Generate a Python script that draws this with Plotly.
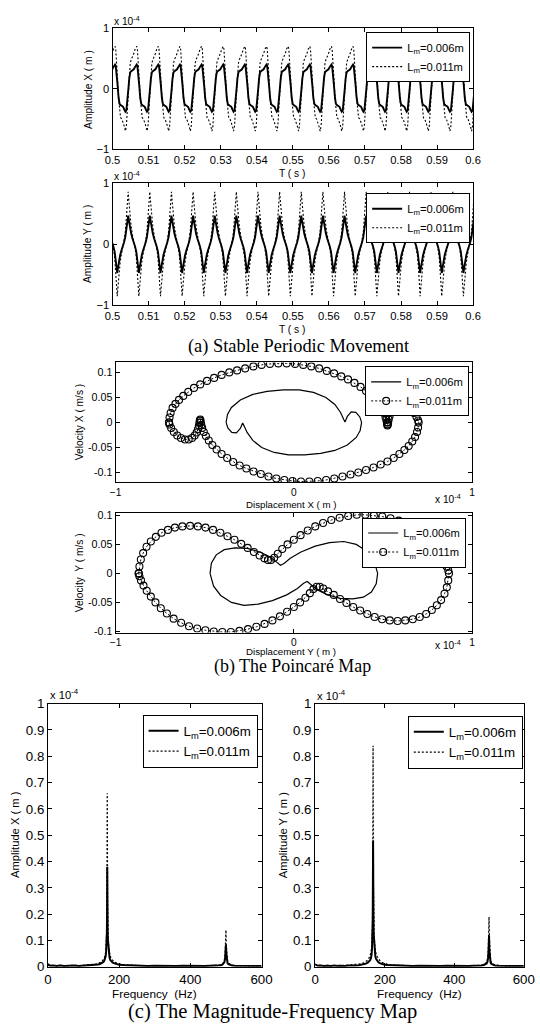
import plotly.graph_objects as go

# The page is photographed with the body's 8 px margin around the figure and the
# whole page squeezed back into 540x1026, so window positions are mapped back
# through that margin and squeeze before they are used as paper coordinates.
W, H = 540, 1026
PAD = 8
SX = W / (W + 2 * PAD)
SY = H / (H + 2 * PAD)
FS = 1.0 / ((SX + SY) / 2)      # font enlargement that offsets the squeeze
SANS = "Liberation Sans, Arial, Helvetica, sans-serif"
SERIF = "Liberation Serif, Times New Roman, serif"


def fx(p):
    return (p / SX - PAD) / W


def fy(p):
    return 1 - (p / SY - PAD) / H


def fs(size):
    return round(size * FS, 1)


# ---------------- (a) time histories (values in 1e-4 m) ----------------
PERIOD = 0.006          # s  (fundamental ~167 Hz)
T_START, T_END = 0.5, 0.6
T_TICKS = [0.5, 0.51, 0.52, 0.53, 0.54, 0.55, 0.56, 0.57, 0.58, 0.59, 0.6]
T_TICK_TEXT = ["0.5", "0.51", "0.52", "0.53", "0.54", "0.55", "0.56", "0.57", "0.58", "0.59", "0.6"]

# one cycle of X, phase measured from the X maximum (fraction of a period)
X_REF_TIME = 0.5007
X_PHASE = [0.000, 0.030, 0.075, 0.119, 0.164, 0.209, 0.254, 0.313, 0.373, 0.433, 0.478,
           0.522, 0.567, 0.612, 0.657, 0.701, 0.746, 0.806, 0.866, 0.925, 0.970]
X_SMALL = [0.40, 0.38, 0.25, 0.05, -0.15, -0.25, -0.27, -0.28, -0.30, -0.35, -0.38,
           -0.36, -0.22, -0.02, 0.17, 0.27, 0.29, 0.30, 0.32, 0.36, 0.39]
X_LARGE = [0.70, 0.66, 0.45, 0.15, -0.15, -0.38, -0.48, -0.50, -0.55, -0.63, -0.70,
           -0.62, -0.35, -0.05, 0.25, 0.42, 0.48, 0.52, 0.58, 0.65, 0.69]

# one cycle of Y, phase measured from the Y minimum
Y_REF_TIME = 0.5013
Y_PHASE = [0.000, 0.030, 0.075, 0.134, 0.194, 0.254, 0.313, 0.373, 0.418, 0.463,
           0.507, 0.537, 0.582, 0.642, 0.701, 0.761, 0.821, 0.881, 0.925, 0.970]
Y_SMALL = [-0.47, -0.40, -0.28, -0.18, -0.10, -0.04, 0.03, 0.12, 0.24, 0.38,
           0.47, 0.40, 0.28, 0.18, 0.10, 0.04, -0.03, -0.12, -0.24, -0.38]
Y_LARGE = [-0.85, -0.72, -0.50, -0.30, -0.16, -0.06, 0.06, 0.20, 0.40, 0.68,
           0.86, 0.72, 0.50, 0.30, 0.16, 0.06, -0.06, -0.20, -0.40, -0.68]

# ---------------- (b) phase portraits: (displacement 1e-4 m, velocity m/s) ----------------
PX_SMALL = [
    (-0.380, 0.000), (-0.372, 0.016), (-0.350, 0.030), (-0.300, 0.045), (-0.230, 0.056),
    (-0.150, 0.062), (-0.060, 0.065), (0.030, 0.065), (0.110, 0.060), (0.180, 0.050),
    (0.230, 0.036), (0.262, 0.020), (0.280, 0.006), (0.287, 0.001), (0.300, 0.012),
    (0.322, 0.021), (0.348, 0.020), (0.370, 0.011), (0.380, 0.000),
    (0.372, -0.016), (0.350, -0.030), (0.300, -0.045), (0.230, -0.056), (0.150, -0.062),
    (0.060, -0.065), (-0.030, -0.065), (-0.110, -0.060), (-0.180, -0.050), (-0.230, -0.036),
    (-0.262, -0.020), (-0.280, -0.006), (-0.287, -0.001), (-0.300, -0.012), (-0.322, -0.021),
    (-0.348, -0.020), (-0.370, -0.011), (-0.380, 0.000),
]
PX_LARGE = [
    (-0.700, 0.000), (-0.697, 0.010), (-0.691, 0.019), (-0.680, 0.029), (-0.664, 0.037),
    (-0.644, 0.045), (-0.620, 0.053), (-0.592, 0.061), (-0.560, 0.069), (-0.525, 0.076),
    (-0.487, 0.083), (-0.447, 0.089), (-0.405, 0.095), (-0.362, 0.100), (-0.318, 0.104),
    (-0.273, 0.108), (-0.227, 0.112), (-0.181, 0.115), (-0.134, 0.117), (-0.087, 0.118),
    (-0.040, 0.118), (0.007, 0.117), (0.053, 0.115), (0.098, 0.112), (0.142, 0.108),
    (0.185, 0.103), (0.226, 0.098), (0.266, 0.092), (0.304, 0.086), (0.340, 0.079),
    (0.374, 0.071), (0.405, 0.063), (0.433, 0.054), (0.457, 0.045), (0.477, 0.036),
    (0.493, 0.027), (0.505, 0.019), (0.514, 0.011), (0.519, 0.005), (0.522, 0.000),
    (0.524, -0.004), (0.525, -0.006), (0.527, -0.004), (0.529, 0.000), (0.532, 0.006),
    (0.537, 0.013), (0.545, 0.020), (0.556, 0.026), (0.571, 0.031), (0.590, 0.034),
    (0.611, 0.034), (0.633, 0.031), (0.654, 0.026), (0.673, 0.019), (0.688, 0.011),
    (0.697, 0.004), (0.700, 0.000),
    (0.697, -0.010), (0.691, -0.019), (0.680, -0.029), (0.664, -0.038), (0.644, -0.047),
    (0.620, -0.055), (0.592, -0.063), (0.560, -0.071), (0.525, -0.078), (0.487, -0.084),
    (0.447, -0.090), (0.405, -0.095), (0.362, -0.100), (0.318, -0.104), (0.273, -0.108),
    (0.227, -0.112), (0.181, -0.115), (0.134, -0.117), (0.087, -0.118), (0.040, -0.118),
    (-0.007, -0.117), (-0.053, -0.115), (-0.098, -0.112), (-0.142, -0.108), (-0.185, -0.103),
    (-0.226, -0.098), (-0.266, -0.092), (-0.304, -0.086), (-0.340, -0.079), (-0.374, -0.071),
    (-0.405, -0.063), (-0.433, -0.054), (-0.457, -0.045), (-0.477, -0.036), (-0.493, -0.027),
    (-0.505, -0.019), (-0.514, -0.011), (-0.519, -0.005), (-0.522, 0.000), (-0.524, 0.004),
    (-0.525, 0.006), (-0.527, 0.004), (-0.529, 0.000), (-0.532, -0.006), (-0.537, -0.013),
    (-0.545, -0.020), (-0.556, -0.026), (-0.571, -0.031), (-0.590, -0.034), (-0.611, -0.034),
    (-0.633, -0.031), (-0.654, -0.026), (-0.673, -0.019), (-0.688, -0.011), (-0.697, -0.004),
    (-0.700, 0.000),
]
PY_SMALL = [
    (-0.470, 0.000), (-0.462, 0.018), (-0.435, 0.032), (-0.390, 0.041), (-0.330, 0.044),
    (-0.260, 0.043), (-0.190, 0.037), (-0.130, 0.028), (-0.095, 0.019), (-0.075, 0.014),
    (-0.055, 0.017), (-0.020, 0.026), (0.040, 0.037), (0.120, 0.047), (0.200, 0.053),
    (0.280, 0.055), (0.350, 0.050), (0.410, 0.038), (0.450, 0.022), (0.470, 0.000),
    (0.462, -0.018), (0.435, -0.032), (0.390, -0.041), (0.330, -0.044), (0.260, -0.043),
    (0.190, -0.037), (0.130, -0.028), (0.095, -0.019), (0.075, -0.014), (0.055, -0.017),
    (0.020, -0.026), (-0.040, -0.037), (-0.120, -0.047), (-0.200, -0.053), (-0.280, -0.055),
    (-0.350, -0.050), (-0.410, -0.038), (-0.450, -0.022), (-0.470, 0.000),
]
PY_LARGE = [
    (-0.870, 0.000), (-0.866, 0.012), (-0.858, 0.024), (-0.845, 0.035), (-0.826, 0.046),
    (-0.802, 0.055), (-0.774, 0.063), (-0.742, 0.070), (-0.706, 0.075), (-0.667, 0.079),
    (-0.625, 0.081), (-0.582, 0.082), (-0.538, 0.081), (-0.495, 0.079), (-0.453, 0.075),
    (-0.412, 0.070), (-0.372, 0.064), (-0.333, 0.058), (-0.295, 0.051), (-0.259, 0.044),
    (-0.224, 0.037), (-0.192, 0.031), (-0.165, 0.026), (-0.145, 0.023), (-0.128, 0.023),
    (-0.110, 0.027), (-0.090, 0.034), (-0.065, 0.042), (-0.035, 0.050), (0.000, 0.058),
    (0.038, 0.066), (0.078, 0.074), (0.120, 0.081), (0.164, 0.087), (0.210, 0.092),
    (0.257, 0.096), (0.305, 0.099), (0.353, 0.101), (0.401, 0.101), (0.449, 0.100),
    (0.496, 0.098), (0.542, 0.095), (0.588, 0.091), (0.632, 0.085), (0.674, 0.078),
    (0.712, 0.069), (0.746, 0.060), (0.776, 0.050), (0.802, 0.040), (0.825, 0.030),
    (0.843, 0.021), (0.857, 0.012), (0.866, 0.005), (0.870, 0.000),
    (0.866, -0.012), (0.858, -0.024), (0.845, -0.035), (0.826, -0.046), (0.802, -0.055),
    (0.774, -0.063), (0.742, -0.070), (0.706, -0.075), (0.667, -0.079), (0.625, -0.081),
    (0.582, -0.082), (0.538, -0.081), (0.495, -0.079), (0.453, -0.075), (0.412, -0.070),
    (0.372, -0.064), (0.333, -0.058), (0.295, -0.051), (0.259, -0.044), (0.224, -0.037),
    (0.192, -0.031), (0.165, -0.026), (0.145, -0.023), (0.128, -0.023), (0.110, -0.027),
    (0.090, -0.034), (0.065, -0.042), (0.035, -0.050), (0.000, -0.058), (-0.038, -0.066),
    (-0.078, -0.074), (-0.120, -0.081), (-0.164, -0.087), (-0.210, -0.092), (-0.257, -0.096),
    (-0.305, -0.099), (-0.353, -0.101), (-0.401, -0.101), (-0.449, -0.100), (-0.496, -0.098),
    (-0.542, -0.095), (-0.588, -0.091), (-0.632, -0.085), (-0.674, -0.078), (-0.712, -0.069),
    (-0.746, -0.060), (-0.776, -0.050), (-0.802, -0.040), (-0.825, -0.030), (-0.843, -0.021),
    (-0.857, -0.012), (-0.866, -0.005), (-0.870, 0.000),
]

# ---------------- (c) amplitude spectra (1e-4 m) ----------------
FREQ = [0, 3, 8, 15, 25, 35, 45, 55, 65, 75,
        85, 95, 105, 115, 125, 133, 140, 146, 151, 155,
        158, 160, 162, 163.5, 164.5, 165.5, 166, 166.5, 167, 167.5,
        168, 169, 170, 171.5, 173, 175, 178, 182, 187, 193,
        200, 210, 222, 235, 250, 265, 280, 300, 320, 340,
        360, 380, 400, 420, 440, 455, 468, 478, 485, 490,
        493, 495.5, 497.5, 499, 500, 501, 502.5, 504.5, 507, 511,
        517, 525, 535, 548, 562, 578, 592, 600]
AX_SMALL = [0.010, 0.006, 0.004, 0.005, 0.003, 0.005, 0.003, 0.004, 0.003, 0.005,
            0.003, 0.004, 0.005, 0.004, 0.006, 0.007, 0.009, 0.011, 0.014, 0.018,
            0.022, 0.028, 0.040, 0.060, 0.090, 0.130, 0.200, 0.380, 0.300, 0.150,
            0.110, 0.090, 0.070, 0.050, 0.035, 0.026, 0.020, 0.016, 0.013, 0.010,
            0.008, 0.007, 0.006, 0.005, 0.004, 0.005, 0.003, 0.004, 0.003, 0.004,
            0.003, 0.004, 0.003, 0.004, 0.003, 0.004, 0.004, 0.005, 0.006, 0.008,
            0.011, 0.017, 0.030, 0.060, 0.085, 0.050, 0.025, 0.014, 0.010, 0.007,
            0.005, 0.004, 0.004, 0.003, 0.004, 0.003, 0.004, 0.003]
AX_LARGE = [0.012, 0.007, 0.005, 0.006, 0.004, 0.006, 0.004, 0.005, 0.004, 0.006,
            0.004, 0.005, 0.006, 0.006, 0.008, 0.010, 0.012, 0.016, 0.020, 0.026,
            0.032, 0.040, 0.055, 0.080, 0.120, 0.200, 0.350, 0.660, 0.500, 0.250,
            0.170, 0.120, 0.090, 0.065, 0.050, 0.040, 0.030, 0.024, 0.018, 0.014,
            0.011, 0.009, 0.007, 0.006, 0.005, 0.006, 0.004, 0.005, 0.004, 0.005,
            0.004, 0.005, 0.004, 0.005, 0.004, 0.005, 0.005, 0.006, 0.008, 0.011,
            0.016, 0.025, 0.045, 0.090, 0.140, 0.080, 0.040, 0.022, 0.014, 0.010,
            0.007, 0.005, 0.005, 0.004, 0.005, 0.004, 0.005, 0.004]
AY_SMALL = [0.009, 0.006, 0.004, 0.005, 0.003, 0.004, 0.003, 0.005, 0.003, 0.004,
            0.003, 0.005, 0.004, 0.005, 0.006, 0.008, 0.010, 0.012, 0.016, 0.020,
            0.025, 0.032, 0.045, 0.070, 0.110, 0.180, 0.320, 0.480, 0.360, 0.200,
            0.130, 0.100, 0.075, 0.055, 0.040, 0.030, 0.022, 0.017, 0.013, 0.010,
            0.008, 0.007, 0.006, 0.005, 0.004, 0.005, 0.003, 0.004, 0.003, 0.004,
            0.003, 0.004, 0.003, 0.004, 0.003, 0.004, 0.004, 0.005, 0.007, 0.009,
            0.013, 0.020, 0.035, 0.075, 0.120, 0.065, 0.030, 0.016, 0.011, 0.008,
            0.005, 0.004, 0.004, 0.003, 0.004, 0.003, 0.004, 0.003]
AY_LARGE = [0.011, 0.007, 0.005, 0.006, 0.004, 0.006, 0.004, 0.005, 0.004, 0.006,
            0.005, 0.006, 0.007, 0.008, 0.010, 0.012, 0.015, 0.020, 0.026, 0.034,
            0.042, 0.052, 0.070, 0.100, 0.150, 0.260, 0.450, 0.840, 0.600, 0.320,
            0.210, 0.150, 0.110, 0.080, 0.062, 0.050, 0.040, 0.030, 0.022, 0.016,
            0.012, 0.009, 0.007, 0.006, 0.005, 0.006, 0.004, 0.005, 0.004, 0.005,
            0.004, 0.005, 0.004, 0.005, 0.004, 0.005, 0.005, 0.006, 0.009, 0.012,
            0.018, 0.030, 0.055, 0.110, 0.190, 0.110, 0.050, 0.026, 0.016, 0.011,
            0.008, 0.006, 0.005, 0.004, 0.005, 0.004, 0.005, 0.004]

NAME_SMALL = "L<sub>m</sub>=0.006m"
NAME_LARGE = "L<sub>m</sub>=0.011m"


def repeat_cycle(phase, values, t_ref):
    """Lay one measured cycle end to end over the plotted time window."""
    k0 = int((T_START - t_ref) // PERIOD) - 1
    k1 = int((T_END - t_ref) // PERIOD) + 2
    t, v = [], []
    for k in range(k0, k1):
        for p, val in zip(phase, values):
            t.append(t_ref + (k + p) * PERIOD)
            v.append(val)
    return t, v


fig = go.Figure()

DOTS = "2px,2px"
solid = dict(color="black", width=1.9)
dotted = dict(color="black", width=1.1, dash=DOTS)

# panel 1 & 2 : time histories
for ax, legend, phase, small, large, t_ref in [
    ("", "legend", X_PHASE, X_SMALL, X_LARGE, X_REF_TIME),
    ("2", "legend2", Y_PHASE, Y_SMALL, Y_LARGE, Y_REF_TIME),
]:
    t, v = repeat_cycle(phase, small, t_ref)
    fig.add_trace(go.Scatter(x=t, y=v, mode="lines", line=solid, name=NAME_SMALL,
                             xaxis="x" + ax, yaxis="y" + ax, legend=legend))
    t, v = repeat_cycle(phase, large, t_ref)
    fig.add_trace(go.Scatter(x=t, y=v, mode="lines", line=dotted, name=NAME_LARGE,
                             xaxis="x" + ax, yaxis="y" + ax, legend=legend))

# panel 3 & 4 : phase portraits
for ax, legend, small, large in [("3", "legend3", PX_SMALL, PX_LARGE),
                                 ("4", "legend4", PY_SMALL, PY_LARGE)]:
    d, v = zip(*small)
    fig.add_trace(go.Scatter(x=d, y=v, mode="lines", name=NAME_SMALL,
                             line=dict(color="black", width=1.2),
                             xaxis="x" + ax, yaxis="y" + ax, legend=legend))
    d, v = zip(*large)
    fig.add_trace(go.Scatter(x=d, y=v, mode="lines+markers", name=NAME_LARGE,
                             line=dict(color="black", width=1, dash=DOTS),
                             marker=dict(symbol="circle-open", size=7, color="black",
                                         line=dict(width=1.1, color="black")),
                             xaxis="x" + ax, yaxis="y" + ax, legend=legend))

# panel 5 & 6 : spectra
for ax, legend, small, large in [("5", "legend5", AX_SMALL, AX_LARGE),
                                 ("6", "legend6", AY_SMALL, AY_LARGE)]:
    fig.add_trace(go.Scatter(x=FREQ, y=small, mode="lines", name=NAME_SMALL,
                             line=dict(color="black", width=2),
                             xaxis="x" + ax, yaxis="y" + ax, legend=legend))
    fig.add_trace(go.Scatter(x=FREQ, y=large, mode="lines", name=NAME_LARGE,
                             line=dict(color="black", width=1.2, dash=DOTS),
                             xaxis="x" + ax, yaxis="y" + ax, legend=legend))


def axis(domain, anchor, size=11, **kw):
    a = dict(domain=domain, anchor=anchor, showline=True, linecolor="black", linewidth=1,
             mirror="ticks", ticks="inside", ticklen=4, tickcolor="black", tickwidth=1,
             showgrid=False, zeroline=False,
             tickfont=dict(family=SANS, size=fs(size), color="black"))
    a.update(kw)
    return a


TOP_X = [fx(113), fx(476)]
MID_X = [fx(116), fx(475)]
P1_Y = [fy(150), fy(29)]
P2_Y = [fy(306), fy(184)]
P3_Y = [fy(483), fy(363)]
P4_Y = [fy(633), fy(513)]
P56_Y = [fy(967), fy(704)]
P5_X = [fx(48), fx(263)]
P6_X = [fx(317), fx(527)]

V_TICKS = [-0.1, -0.05, 0, 0.05, 0.1]
V_TICK_TEXT = ["-0.1", "-0.05", "0", "0.05", "0.1"]
A_TICKS = [0, 0.1, 0.2, 0.3, 0.4, 0.5, 0.6, 0.7, 0.8, 0.9, 1]
A_TICK_TEXT = ["0", "0.1", "0.2", "0.3", "0.4", "0.5", "0.6", "0.7", "0.8", "0.9", "1"]

fig.update_layout(
    xaxis=axis(TOP_X, "y", range=[0.5, 0.6], tickvals=T_TICKS, ticktext=T_TICK_TEXT),
    yaxis=axis(P1_Y, "x", range=[-1, 1], tickvals=[-1, 0, 1]),
    xaxis2=axis(TOP_X, "y2", range=[0.5, 0.6], tickvals=T_TICKS, ticktext=T_TICK_TEXT),
    yaxis2=axis(P2_Y, "x2", range=[-1, 1], tickvals=[-1, 0, 1]),
    xaxis3=axis(MID_X, "y3", size=10, range=[-1, 1], tickvals=[-1, 0, 1]),
    yaxis3=axis(P3_Y, "x3", size=10.5, range=[-0.12, 0.12], tickvals=V_TICKS,
                ticktext=V_TICK_TEXT),
    xaxis4=axis(MID_X, "y4", size=10, range=[-1, 1], tickvals=[-1, 0, 1]),
    yaxis4=axis(P4_Y, "x4", size=10.5, range=[-0.102, 0.105], tickvals=V_TICKS,
                ticktext=V_TICK_TEXT),
    xaxis5=axis(P5_X, "y5", size=13, range=[0, 600], tickvals=[0, 200, 400, 600]),
    yaxis5=axis(P56_Y, "x5", size=13, range=[0, 1], tickvals=A_TICKS, ticktext=A_TICK_TEXT),
    xaxis6=axis(P6_X, "y6", size=13, range=[0, 600], tickvals=[0, 200, 400, 600]),
    yaxis6=axis(P56_Y, "x6", size=13, range=[0, 1], tickvals=A_TICKS, ticktext=A_TICK_TEXT),
)


def legend_box(x_right, y_top, size):
    return dict(x=fx(x_right), y=fy(y_top), xanchor="right", yanchor="top",
                bgcolor="white", bordercolor="black", borderwidth=1,
                font=dict(family=SANS, size=fs(size), color="black"),
                itemwidth=30, tracegroupgap=0)


fig.update_layout(
    legend=legend_box(473, 33, 11),
    legend2=legend_box(473, 194, 11),
    legend3=legend_box(472, 367, 11),
    legend4=legend_box(469, 518, 11),
    legend5=legend_box(259, 715, 13),
    legend6=legend_box(526, 716, 13),
)

annotations = []


def label(text, x, y, size, angle=0, xanchor="center", family=SANS):
    annotations.append(dict(text=text, x=fx(x), y=fy(y), xref="paper", yref="paper",
                            showarrow=False, textangle=angle, xanchor=xanchor,
                            yanchor="middle",
                            font=dict(family=family, size=fs(size), color="black")))


EXP = "x 10<sup>-4</sup>"
# exponent markers
label(EXP, 112, 22, 10, xanchor="left")
label(EXP, 112, 177, 10, xanchor="left")
label(EXP, 466, 500, 10, xanchor="right")
label(EXP, 466, 645, 10, xanchor="right")
label(EXP, 48, 694, 11, xanchor="left")
label(EXP, 317, 695, 11, xanchor="left")

# axis titles
label("Amplitude X ( m )", 88, 90, 10, angle=-90)
label("T ( s )", 294, 174, 10)
label("Amplitude Y ( m )", 88, 245, 10, angle=-90)
label("T ( s )", 294, 330, 10)
label("Velocity X ( m/s )", 80, 423, 10, angle=-90)
label("Displacement X ( m )", 293, 505, 9.5)
label("Velocity  Y ( m/s )", 80, 573, 10, angle=-90)
label("Displacement Y ( m )", 293, 652, 9.5)
label("Amplitude X ( m )", 15, 835, 11, angle=-90)
label("Frequency  (Hz)", 155, 994, 11.5)
label("Amplitude Y ( m )", 284, 835, 11, angle=-90)
label("Frequency  (Hz)", 422, 994, 11.5)

# sub-figure captions
label("(a) Stable Periodic Movement", 300, 347, 18, family=SERIF)
label("(b) The Poincaré Map", 294, 667, 17.5, family=SERIF)
label("(c) The Magnitude-Frequency Map", 274, 1012, 20, family=SERIF)

fig.update_layout(
    annotations=annotations,
    width=W, height=H,
    margin=dict(l=0, r=0, t=0, b=0),
    paper_bgcolor="white", plot_bgcolor="white",
    font=dict(family=SANS, color="black"),
)

fig.write_html("out.html")
